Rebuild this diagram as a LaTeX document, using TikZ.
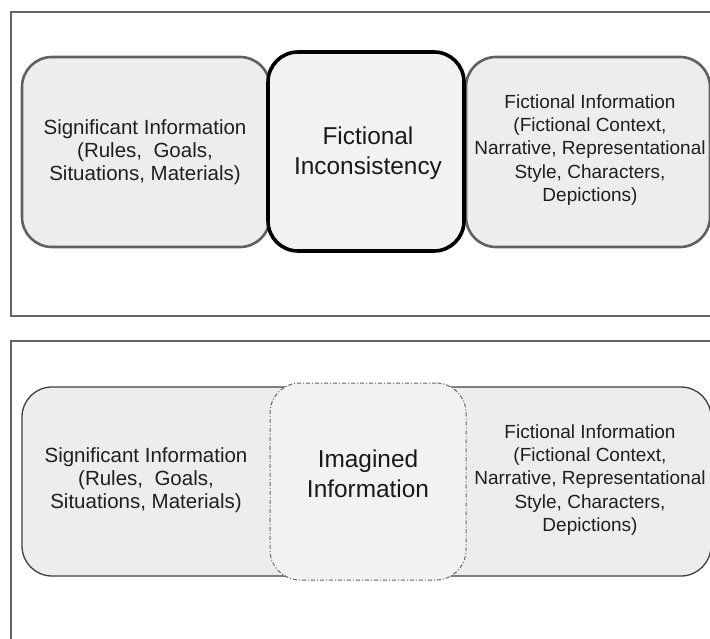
\documentclass[tikz,border=0pt]{standalone}
\usepackage{fontspec}
\setmainfont{Liberation Sans}
\begin{document}
\begin{tikzpicture}[x=1pt,y=-1pt,
  frame/.style={draw=black!60, line width=2.6pt},
  sidebox/.style={draw=black!62, line width=2.6pt, fill=black!7, rounded corners=30pt, inner sep=0pt, align=center, text=black!88},
  lfont/.style={font=\fontsize{20.5}{23.3}\selectfont},
  rfont/.style={font=\fontsize{19}{23.3}\selectfont},
  midbox/.style={draw=black, line width=3.6pt, fill=black!5, rounded corners=30pt, inner sep=0pt, align=center, text=black!90, font=\fontsize{24.4}{30}\selectfont},
  bigbox/.style={draw=black!75, line width=1.3pt, fill=black!7, rounded corners=30pt, inner sep=0pt},
  dashbox/.style={draw=black!60, line width=1pt, dash pattern=on 4pt off 2pt on 1pt off 2pt, fill=black!5, rounded corners=30pt, inner sep=0pt, align=center, text=black!90, font=\fontsize{24.4}{30}\selectfont},
  txt/.style={align=center, inner sep=0pt, text=black!88}]
\useasboundingbox (0,0) rectangle (710,639);
\fill[white] (0,0) rectangle (710,639);
% frames
\coordinate (f1a) at (11,12);
\coordinate (f1b) at (740,316);
\draw[frame] (f1a) rectangle (f1b);
\coordinate (f2a) at (11,341);
\coordinate (f2b) at (740,700);
\draw[frame] (f2a) rectangle (f2b);
% top
\node[sidebox, minimum width=248pt, minimum height=190pt] (tl) at (146,152) {};
\node[txt, lfont] (tlt) at (145,152) {Significant Information\\(Rules,\ \ Goals,\\Situations, Materials)};
\node[sidebox, rfont, minimum width=244pt, minimum height=190pt] (tr) at (588,152) {};
\node[txt, rfont] (trt) at (590,150) {Fictional Information\\(Fictional Context,\\Narrative, Representational\\Style, Characters,\\Depictions)};
\node[midbox, minimum width=196pt, minimum height=199pt] (tm) at (366,151.5) {};
\node[txt, font=\fontsize{24.4}{30}\selectfont, text=black!90] (tmt) at (368,153) {Fictional\\Inconsistency};
% bottom
\node[bigbox, minimum width=689pt, minimum height=189pt] (bb) at (366.5,481.5) {};
\node[dashbox, minimum width=196pt, minimum height=197pt] (bm) at (368,481.5) {};
\node[txt, font=\fontsize{24.4}{30}\selectfont, text=black!90] (bmt) at (368,474) {Imagined\\Information};
\node[txt, lfont] (bl) at (146,480) {Significant Information\\(Rules,\ \ Goals,\\Situations, Materials)};
\node[txt, rfont] (br) at (590,480) {Fictional Information\\(Fictional Context,\\Narrative, Representational\\Style, Characters,\\Depictions)};
\end{tikzpicture}
\end{document}
